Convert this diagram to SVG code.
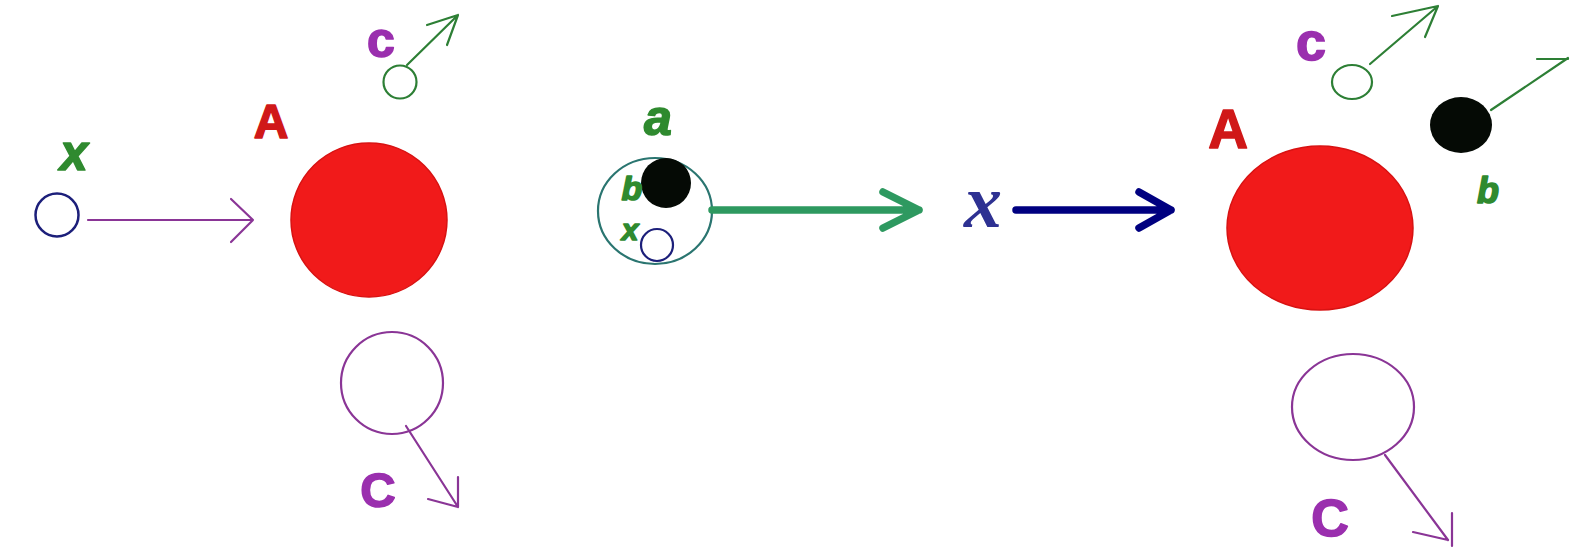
<svg xmlns="http://www.w3.org/2000/svg" width="1570" height="549" viewBox="0 0 1570 549">
  <style>
    .lbl { font-family: "Liberation Sans", Arial, sans-serif; font-weight: bold; text-anchor: middle; stroke-width: 1.6; stroke-linejoin: round; }
    .it { font-style: italic; }
    .green { fill: #2f8a2f; stroke: #2f8a2f; }
    .purple { fill: #9a2fae; stroke: #9a2fae; }
    .red { fill: #d01818; stroke: #d01818; }
    .thin { fill: none; stroke-width: 2.2; stroke-linecap: round; stroke-linejoin: round; }
    .thick { fill: none; stroke-width: 7.5; stroke-linecap: round; stroke-linejoin: round; }
    .g-str { stroke: #2d7f35; }
    .p-str { stroke: #8a3596; }
    .nucleus { fill: #f11a1a; stroke: #d81212; stroke-width: 1.5; }
  </style>
  <rect width="1570" height="549" fill="#ffffff"/>

  <!-- Before the reaction -->
  <g id="particle-x-in">
    <circle cx="57" cy="215" r="21.5" fill="none" stroke="#1c1f7a" stroke-width="2.5"/>
    <text class="lbl it green" x="74" y="170" font-size="50">x</text>
  </g>
  <g id="target-A">
    <ellipse class="nucleus" cx="369" cy="220" rx="78" ry="77"/>
    <text class="lbl red" x="271" y="138" font-size="48">A</text>
  </g>
  <g id="particle-c-out">
    <circle cx="400" cy="82" r="16.5" fill="none" stroke="#2d7f35" stroke-width="2.2"/>
    <text class="lbl purple" x="381" y="57" font-size="50">c</text>
  </g>
  <g id="residual-C">
    <circle cx="392" cy="383" r="51" fill="none" stroke="#8a3596" stroke-width="2.2"/>
    <text class="lbl purple" x="378" y="507" font-size="49">C</text>
  </g>

  <!-- Compound system a -->
  <g id="compound-a">
    <ellipse cx="655" cy="211" rx="57" ry="53" fill="#ffffff" stroke="#2a7570" stroke-width="2.2"/>
    <circle cx="666" cy="183" r="25" fill="#050a05"/>
    <circle cx="657" cy="245" r="16" fill="none" stroke="#1c1f7a" stroke-width="2.2"/>
    <text class="lbl it green" x="658" y="135" font-size="50">a</text>
    <text class="lbl it green" x="632" y="200" font-size="34">b</text>
    <text class="lbl it green" x="630" y="240" font-size="30">x</text>
  </g>
  <g id="symbol-x">
    <text x="983" y="227" font-family="'Liberation Serif', 'Times New Roman', serif" font-weight="bold" font-style="italic" font-size="76" fill="#2e3192" text-anchor="middle">x</text>
  </g>

  <!-- After the reaction -->
  <g id="target-A-2">
    <ellipse class="nucleus" cx="1320" cy="228" rx="93" ry="82"/>
    <text class="lbl red" x="1228" y="148" font-size="55">A</text>
  </g>
  <g id="particle-c-out-2">
    <ellipse cx="1352" cy="82" rx="20" ry="17" fill="none" stroke="#2d7f35" stroke-width="2.2"/>
    <text class="lbl purple" x="1311" y="60" font-size="54">c</text>
  </g>
  <g id="particle-b-out">
    <ellipse cx="1461" cy="125" rx="31" ry="28" fill="#050a05"/>
    <text class="lbl it green" x="1488" y="203" font-size="36">b</text>
  </g>
  <g id="residual-C-2">
    <ellipse cx="1353" cy="407" rx="61" ry="53" fill="none" stroke="#8a3596" stroke-width="2.2"/>
    <text class="lbl purple" x="1330" y="536" font-size="52">C</text>
  </g>

  <!-- Connectors -->
  <g id="connectors">
    <path class="thin p-str" d="M88 220 H253 M231 199 L253 220 L231 242"/>
    <path class="thin g-str" d="M407 65 L458 15 M427 25 L458 15 L447 45"/>
    <path class="thin p-str" d="M406 426 L458 507 M428 499 L458 507 L458 477"/>
    <path class="thick" stroke="#2e9960" d="M712 210 H919 M883 192 L919 210 L883 228"/>
    <path class="thick" stroke="#000080" d="M1016 210 H1171 M1139 192 L1171 210 L1139 228"/>
    <path class="thin g-str" d="M1370 64 L1438 6 M1392 16 L1438 6 L1425 37"/>
    <path class="thin g-str" d="M1491 110 L1568 58 M1537 59 H1568"/>
    <path class="thin p-str" d="M1385 455 L1448 540 M1413 532 L1448 540 M1452 513 V546"/>
  </g>
</svg>
